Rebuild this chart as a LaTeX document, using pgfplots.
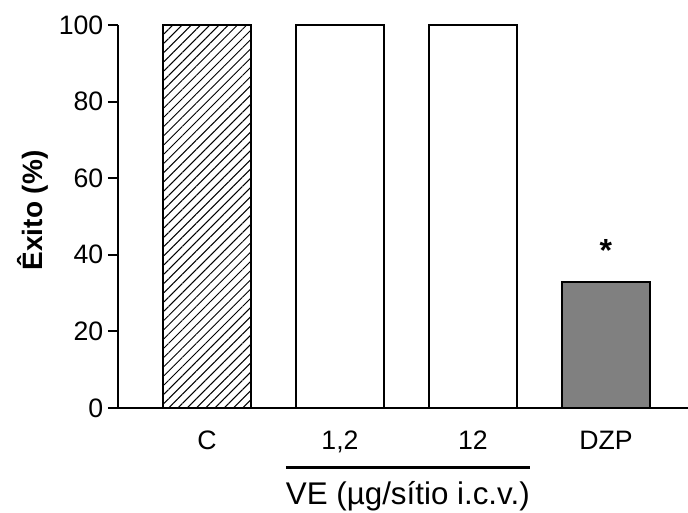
\documentclass[border=0pt]{standalone}
\usepackage{fontspec}
\setmainfont{Liberation Sans}
\usepackage{pgfplots}
\pgfplotsset{compat=1.18}
\usetikzlibrary{patterns.meta}
\begin{document}
\begin{tikzpicture}
\useasboundingbox (-88.5pt,-78pt) rectangle (427.5pt,306pt);
\begin{axis}[
  at={(0,0)}, anchor=south west,
  scale only axis,
  width=427.5pt, height=287.25pt,
  xmin=-0.669, xmax=3.617,
  ymin=0, ymax=100,
  axis lines=left,
  axis line style={line width=1.5pt, -},
  ytick={0,20,40,60,80,100},
  xtick={0,1,2,3},
  xticklabels={C,{1,2},12,DZP},
  x tick style={draw=none},
  y tick style={line width=1.5pt, black},
  tick align=outside,
  major tick length=7.5pt,
  /pgf/number format/assume math mode=true,
  tick label style={font=\fontsize{20}{22}\selectfont},
  xticklabel style={anchor=base, yshift=-23.25pt},
  yticklabel style={anchor=east},
  ylabel={\textbf{Êxito (\%)}},
  ylabel style={font=\fontsize{21}{24}\selectfont, at={(axis description cs:-0.1333,0.516)}, anchor=base},
  clip=false,
  bar width=0.662,
]
\addplot[ybar, bar shift=0pt, draw=black, line width=1.5pt, fill=white, postaction={pattern={Lines[angle=45, distance=4.9pt, line width=0.75pt]}}] coordinates {(0,100)};
\addplot[ybar, bar shift=0pt, draw=black, line width=1.5pt, fill=white] coordinates {(1,100) (2,100)};
\addplot[ybar, bar shift=0pt, draw=black, line width=1.5pt, fill=black!50] coordinates {(3,33)};
\node[anchor=base, font=\bfseries\fontsize{24}{26}\selectfont] at (axis cs:3,38.3) {*};
\draw[line width=2.25pt] ([yshift=-44.25pt]axis cs:0.594,0) -- ([yshift=-44.25pt]axis cs:2.43,0);
\node[anchor=base, font=\fontsize{23.5}{26}\selectfont] at ([yshift=-72pt]axis cs:1.51,0) {VE (µg/sítio i.c.v.)};
\end{axis}
\end{tikzpicture}
\end{document}
